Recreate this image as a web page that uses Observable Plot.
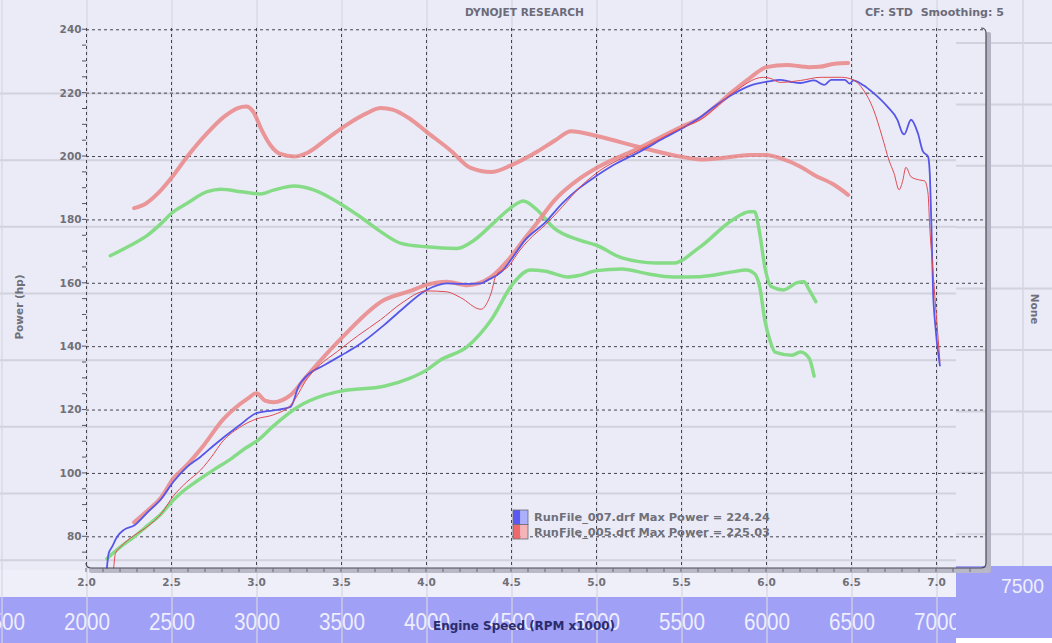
<!DOCTYPE html>
<html><head><meta charset="utf-8">
<script src="https://cdn.jsdelivr.net/npm/d3@7"></script>
<script src="https://cdn.jsdelivr.net/npm/@observablehq/plot@0.6"></script>
<style>
html,body{margin:0;padding:0;background:#ebebf8;}
#wrap{position:relative;width:1052px;height:643px;overflow:hidden;background:#ebebf8;}
#wrap svg{position:absolute;left:0;top:0;}
</style></head><body><div id="wrap"></div>
<script>
// ---------- data (x = engine speed, RPM x1000; y = power, hp) ----------
const xTicks = [2.0, 2.5, 3.0, 3.5, 4.0, 4.5, 5.0, 5.5, 6.0, 6.5, 7.0];
const yTicks = [80, 100, 120, 140, 160, 180, 200, 220, 240];
const ghostRpm = [1500, 2000, 2500, 3000, 3500, 4000, 4500, 5000, 5500, 6000, 6500, 7000];
const runNames = ["RunFile_007.drf", "RunFile_005.drf"];
const runMaxPower = [224.24, 225.03];

const run007 = [[2.12,70.2],[2.13,74.7],[2.15,76.8],[2.18,80],[2.22,82.2],[2.28,83.6],[2.36,87.8],[2.44,92],[2.51,97.3],[2.59,102],[2.67,105.2],[2.75,108.9],[2.9,115.2],[3.0,119],[3.1,119.9],[3.2,121],[3.25,127.8],[3.3,131],[3.4,134.2],[3.5,137.3],[3.6,140.5],[3.75,146.8],[3.85,151.5],[4.0,157.9],[4.12,160],[4.2,159.8],[4.32,160],[4.36,161],[4.44,163.6],[4.51,168.4],[4.57,173],[4.7,179.3],[4.8,185.3],[4.9,190.1],[5.0,193.9],[5.1,197.3],[5.25,201.4],[5.4,205.9],[5.5,208.8],[5.6,212],[5.7,216],[5.8,219.6],[5.9,222.3],[6.01,223.7],[6.08,224.2],[6.14,223.6],[6.2,223.2],[6.28,224],[6.34,222.6],[6.38,224.2],[6.46,224.2],[6.49,223],[6.51,224],[6.57,222.5],[6.63,220],[6.71,215.8],[6.77,211.6],[6.8,207.4],[6.81,207],[6.85,211.6],[6.89,207.4],[6.92,201.6],[6.95,200],[6.96,195],[6.97,177.9],[6.98,156.8],[6.99,148.4],[7.02,134]];
const run005 = [[2.16,70.2],[2.17,74.7],[2.2,76.8],[2.28,80.4],[2.36,83.3],[2.44,87.3],[2.51,92.8],[2.59,97.3],[2.67,101],[2.75,106.3],[2.79,109.4],[2.9,114.5],[3.0,117.2],[3.1,118.5],[3.2,121.5],[3.3,130],[3.5,139.5],[3.6,143.6],[3.73,148.5],[3.85,153.6],[4.0,157.6],[4.12,157.3],[4.2,155.5],[4.32,151.8],[4.38,156.9],[4.41,162.6],[4.48,165.2],[4.55,170.5],[4.6,173.6],[4.7,178.5],[4.8,184.2],[4.9,190.2],[5.0,194.8],[5.25,202],[5.5,209],[5.61,211.6],[5.8,220],[5.98,225],[6.02,224.7],[6.08,223.4],[6.2,224],[6.32,225],[6.44,225],[6.51,224.2],[6.57,221],[6.63,214.7],[6.68,206.3],[6.72,198.9],[6.75,194.7],[6.78,189.5],[6.8,192.1],[6.82,196.6],[6.85,193.6],[6.9,192.6],[6.93,192.3],[6.95,188.4],[6.96,177.9],[6.98,163.2],[7.0,149],[7.02,135.5]];
const redPower = [[2.28,84.6],[2.36,88.3],[2.44,92.5],[2.51,98.3],[2.59,102.6],[2.69,108.9],[2.8,116.8],[2.95,123.7],[3.0,125.3],[3.05,123],[3.1,122.5],[3.2,124.7],[3.3,131],[3.5,142.7],[3.75,154.7],[3.9,157.5],[4.0,159.5],[4.12,160.5],[4.24,159.4],[4.38,162],[4.48,167.3],[4.57,173.6],[4.65,179],[4.75,186],[4.9,193],[5.0,196.4],[5.25,202.7],[5.5,209.4],[5.61,212.1],[5.71,216.3],[5.8,220.5],[5.9,224.7],[6.0,228.2],[6.12,228.9],[6.25,228.2],[6.31,228.3],[6.4,229.3],[6.48,229.5]];
const redTorque = [[2.28,183.7],[2.35,185.2],[2.43,188.9],[2.5,193.3],[2.6,200.5],[2.71,207.4],[2.81,212.6],[2.89,215.3],[2.94,215.8],[2.98,214.2],[3.03,208.4],[3.08,203.7],[3.14,200.8],[3.22,200],[3.3,201.2],[3.42,205.8],[3.53,210],[3.65,213.7],[3.73,215.3],[3.8,214.8],[3.9,212],[4.0,207.8],[4.14,202],[4.26,196.4],[4.38,195.1],[4.5,197.3],[4.65,201.5],[4.76,205.2],[4.85,208],[5.0,206.5],[5.25,203],[5.5,199.9],[5.61,199.1],[5.75,199.6],[5.9,200.5],[6.0,200.5],[6.08,199.5],[6.2,196.8],[6.28,194.2],[6.4,191],[6.48,187.9]];
const greenTorque = [[2.14,168.7],[2.26,172],[2.36,175.2],[2.44,178.9],[2.5,182.1],[2.59,185.2],[2.71,188.9],[2.79,189.7],[2.91,188.9],[3.02,188.2],[3.1,189.4],[3.22,190.7],[3.34,189.4],[3.49,185.2],[3.61,181],[3.73,176.3],[3.85,172.6],[4.0,171.5],[4.18,171],[4.28,173.6],[4.4,179.3],[4.5,184],[4.57,186],[4.65,183.2],[4.75,177.4],[4.9,173.6],[5.0,172],[5.15,168],[5.35,166.4],[5.45,166.4],[5.61,171.5],[5.8,180],[5.9,182.6],[5.93,182.6],[5.96,175.8],[5.99,165.2],[6.03,158.9],[6.1,157.9],[6.18,160.2],[6.22,160.5],[6.25,158],[6.29,154.2]];
const greenPower = [[2.12,73.1],[2.2,76.8],[2.28,80],[2.36,83.6],[2.44,87.3],[2.51,91.5],[2.55,93.6],[2.65,97.6],[2.75,101.2],[2.85,104.6],[2.93,107.8],[3.01,110.5],[3.1,115],[3.25,121.2],[3.4,124.7],[3.5,126],[3.75,127.5],[3.9,130],[4.0,132.6],[4.08,135.7],[4.24,140],[4.38,148.4],[4.51,160],[4.61,164.2],[4.7,163.8],[4.83,162],[4.9,162.5],[5.0,164],[5.15,164.5],[5.3,163],[5.45,162],[5.61,162.1],[5.8,163.6],[5.88,164.2],[5.93,163],[5.96,158.9],[5.99,148.4],[6.02,142],[6.05,138.3],[6.15,137.3],[6.2,138.3],[6.25,136.4],[6.28,130.7]];

// ---------- layout ----------
const W = 1052, H = 643;
const mL = 86, mR = 66, mT = 28, mB = 75;
const L = mL, R = W - mR, T = mT, B = H - mB;
const SPLIT = 956;
const bg = "#ebebf8", band = "#a0a0f6", ghostLine = "#d2d2dc", ghostText = "#eeeeff";
const tickColor = "#707078";
const px = d => d[0], py = d => d[1];

const plot = Plot.plot({
  width: W, height: H,
  marginLeft: mL, marginRight: mR, marginTop: mT, marginBottom: mB,
  style: {background: "transparent", overflow: "visible", fontFamily: "DejaVu Sans, sans-serif", fontSize: "10.5px", fontWeight: "bold", color: tickColor},
  x: {domain: [2.0, 7.294], ticks: xTicks, tickFormat: d3.format(".1f"), tickSize: 0, tickPadding: 10, label: null},
  y: {domain: [70, 240.4], ticks: yTicks, tickSize: 0, tickPadding: 5, label: null},
  marks: [
    Plot.ruleX(xTicks, {stroke: "#45454f", strokeWidth: 1, strokeDasharray: "3,3"}),
    Plot.ruleY(yTicks, {stroke: "#45454f", strokeWidth: 1, strokeDasharray: "3,3"}),
    Plot.line(greenTorque, {x: px, y: py, stroke: "#86dc86", strokeWidth: 3.5, curve: "monotone-x"}),
    Plot.line(greenPower, {x: px, y: py, stroke: "#86dc86", strokeWidth: 3.5, curve: "monotone-x"}),
    Plot.line(redTorque, {x: px, y: py, stroke: "#ea8c8c", strokeOpacity: 0.9, strokeWidth: 4, curve: "monotone-x"}),
    Plot.line(redPower, {x: px, y: py, stroke: "#ea8c8c", strokeOpacity: 0.9, strokeWidth: 4, curve: "monotone-x"}),
    Plot.line(run007, {x: px, y: py, stroke: "#5656e8", strokeWidth: 1.8, curve: "monotone-x"}),
    Plot.line(run005, {x: px, y: py, stroke: "#e04a52", strokeWidth: 1, curve: "monotone-x"})
  ]
});

const sx = plot.scale("x"), sy = plot.scale("y");
const X = v => sx.apply(v), Y = v => sy.apply(v);

// ---------- ghost background layer ----------
const g = d3.create("svg").attr("width", W).attr("height", H);
g.append("defs").append("clipPath").attr("id", "leftclip")
  .append("rect").attr("x", 0).attr("y", 0).attr("width", SPLIT).attr("height", H);
g.append("rect").attr("width", W).attr("height", H).attr("fill", bg);
const gl = g.append("g").attr("clip-path", "url(#leftclip)");
gl.append("rect").attr("x", 0).attr("y", B + 2).attr("width", SPLIT).attr("height", 597 - B - 2).attr("fill", "#efeffa");
d3.range(8).forEach(k => {
  const yy = 93.5 + 66.67 * k;
  gl.append("line").attr("x1", 0).attr("x2", SPLIT).attr("y1", yy).attr("y2", yy).attr("stroke", ghostLine).attr("stroke-width", 2);
});
gl.append("rect").attr("x", 0).attr("y", 597).attr("width", SPLIT).attr("height", H - 597).attr("fill", band);
ghostRpm.forEach(r => {
  const xx = X(r / 1000) + 1;
  gl.append("line").attr("x1", xx).attr("x2", xx).attr("y1", 0).attr("y2", H).attr("stroke", "#d6d6e2").attr("stroke-opacity", 0.8).attr("stroke-width", 1.5);
  gl.append("text").attr("x", xx - 23).attr("y", 629.5).attr("textLength", 46).attr("lengthAdjust", "spacingAndGlyphs")
    .attr("font-family", "Liberation Sans, sans-serif").attr("font-size", 24).attr("fill", ghostText).text(r);
});
// right ghost panel
const gr = g.append("g");
gr.append("rect").attr("x", SPLIT).attr("y", 0).attr("width", W - SPLIT).attr("height", H).attr("fill", bg);
d3.range(9).forEach(k => {
  const yy = 43 + 61.4 * k;
  gr.append("line").attr("x1", SPLIT).attr("x2", W).attr("y1", yy).attr("y2", yy).attr("stroke", ghostLine).attr("stroke-width", 2);
});
gr.append("line").attr("x1", 1023).attr("x2", 1023).attr("y1", 0).attr("y2", 600).attr("stroke", "#d6d6e2").attr("stroke-width", 1.5);
gr.append("rect").attr("x", SPLIT).attr("y", 566).attr("width", W - SPLIT).attr("height", 72).attr("fill", band);
gr.append("text").attr("x", 1001).attr("y", 593).attr("textLength", 43).attr("lengthAdjust", "spacingAndGlyphs")
  .attr("font-family", "Liberation Sans, sans-serif").attr("font-size", 20).attr("fill", ghostText).text("7500");
gr.append("rect").attr("x", SPLIT).attr("y", 638).attr("width", W - SPLIT).attr("height", H - 638).attr("fill", "#ffffff");
gr.append("text").attr("transform", "translate(1031,309) rotate(90)").attr("text-anchor", "middle")
  .attr("font-family", "DejaVu Sans, sans-serif").attr("font-weight", "bold").attr("font-size", 10.5).attr("fill", tickColor).text("None");

// ---------- foreground decorations on the plot ----------
const s = d3.select(plot);
const deco = s.insert("g", ":first-child");
deco.append("rect").attr("x", R).attr("y", T + 4).attr("width", 5).attr("height", B - T + 1).attr("fill", "#b4b4c4").attr("rx", 2);
deco.append("rect").attr("x", L + 3).attr("y", B).attr("width", R - L).attr("height", 5).attr("fill", "#b8b8c6").attr("rx", 2);
const fg = s.append("g").attr("text-anchor", "start");
const r0 = 5;
fg.append("path")
  .attr("d", `M${R - r0},${T} Q${R},${T} ${R},${T + r0} L${R},${B - r0} Q${R},${B} ${R - r0},${B} L${L + r0},${B} Q${L},${B} ${L},${B - r0}`)
  .attr("fill", "none").attr("stroke", "#4a4a56").attr("stroke-width", 1.2);
d3.range(20, 73).forEach(i => {
  const xx = X(i / 10);
  fg.append("line").attr("x1", xx).attr("x2", xx).attr("y1", B).attr("y2", B + 4).attr("stroke", "#6a6a76").attr("stroke-width", 1);
});
d3.range(75, 241, 5).forEach(v => {
  const yy = Y(v);
  fg.append("line").attr("x1", L - 4).attr("x2", L).attr("y1", yy).attr("y2", yy).attr("stroke", "#55555f").attr("stroke-width", 1);
});
const txt = (x, y, str, o = {}) => fg.append("text").attr("x", x).attr("y", y).attr("text-anchor", "start")
  .attr("font-family", o.family || "DejaVu Sans Condensed, DejaVu Sans, sans-serif").attr("font-weight", "bold")
  .attr("font-size", o.size || 11).attr("fill", o.fill || "#6c6c78")
  .attr("textLength", o.len).attr("lengthAdjust", "spacingAndGlyphs").text(str);
txt(465, 16, "DYNOJET RESEARCH", {len: 119});
txt(865, 16, "CF: STD  Smoothing: 5", {len: 139});
txt(433, 630, "Engine Speed (RPM x1000)", {len: 182, size: 12, fill: "#2b2b6e"});
fg.append("text").attr("transform", "translate(23,307) rotate(-90)").attr("text-anchor", "middle")
  .attr("font-family", "DejaVu Sans, sans-serif").attr("font-weight", "bold").attr("font-size", 10.5).attr("fill", tickColor).text("Power (hp)");
const swL = [["#5a5af2", "#aab0fc"], ["#ee6a6a", "#f4b4b8"]];
runNames.forEach((n, i) => {
  const yy = 510 + i * 14.5;
  fg.append("rect").attr("x", 513).attr("y", yy).attr("width", 7.5).attr("height", 14.5).attr("fill", swL[i][0]);
  fg.append("rect").attr("x", 520.5).attr("y", yy).attr("width", 7.5).attr("height", 14.5).attr("fill", swL[i][1]);
  fg.append("rect").attr("x", 513).attr("y", yy).attr("width", 15).attr("height", 14.5).attr("fill", "none").attr("stroke", "#6a6a76").attr("stroke-width", 0.8);
  txt(534, yy + 11, `${n} Max Power = ${runMaxPower[i].toFixed(2)}`, {family: "DejaVu Sans, sans-serif", len: 236, fill: "#707078"});
});

const wrap = document.getElementById("wrap");
wrap.appendChild(g.node());
wrap.appendChild(plot);
</script></body></html>
